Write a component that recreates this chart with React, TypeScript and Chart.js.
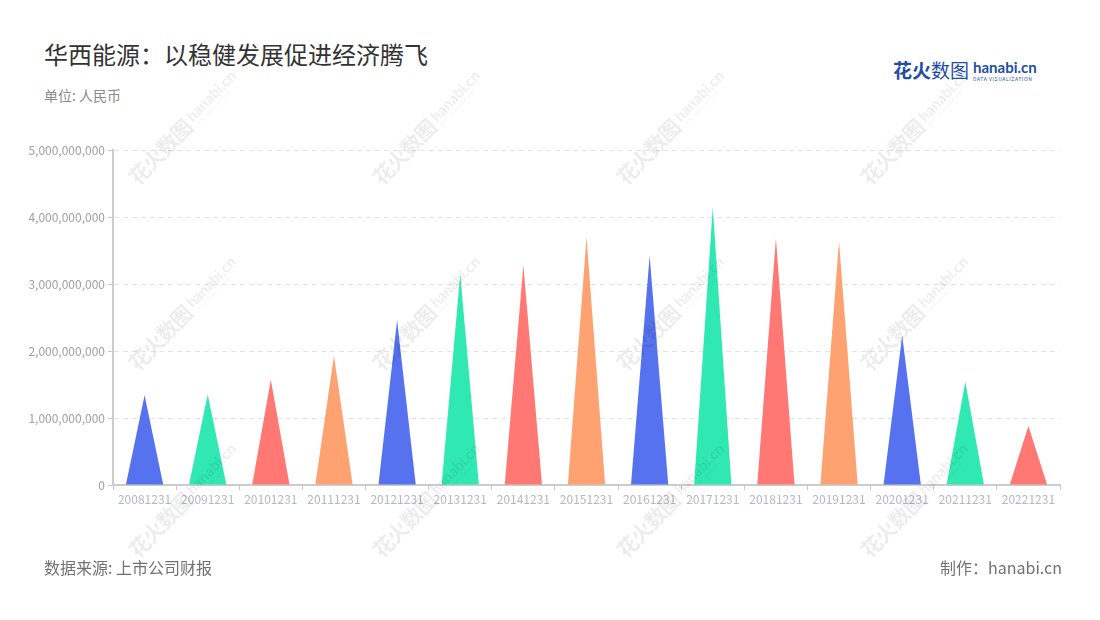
import React, { useEffect, useRef } from "react";
import { Chart, registerables } from "chart.js";

Chart.register(...registerables);

const categories = [
  "20081231", "20091231", "20101231", "20111231", "20121231",
  "20131231", "20141231", "20151231", "20161231", "20171231",
  "20181231", "20191231", "20201231", "20211231", "20221231",
];
const values = [
  1340000000, 1350000000, 1570000000, 1930000000, 2460000000,
  3150000000, 3280000000, 3700000000, 3420000000, 4150000000,
  3680000000, 3640000000, 2230000000, 1540000000, 880000000,
];
const palette = ["#5672EF", "#30E8B2", "#FF7874", "#FFA272"];
const yMax = 5000000000;
const yStep = 1000000000;

const FONT = '"Noto Sans CJK SC", "Noto Sans", sans-serif';

const trianglePlugin = {
  id: "triangles",
  afterDatasetsDraw(chart: any) {
    const ctx = chart.ctx;
    chart.data.datasets.forEach((ds: any, di: number) => {
      const meta = chart.getDatasetMeta(di);
      meta.data.forEach((el: any, i: number) => {
        const { x, y, base, width } = el.getProps(["x", "y", "base", "width"], true);
        ctx.save();
        ctx.beginPath();
        ctx.moveTo(x - width / 2, base);
        ctx.lineTo(x, y);
        ctx.lineTo(x + width / 2, base);
        ctx.closePath();
        ctx.fillStyle = palette[i % palette.length];
        ctx.fill();
        ctx.restore();
      });
    });
  },
};

const wmRows = [127, 313, 500];
const wmCols = [183, 427, 671, 915];

function Watermark({ cx, cy }: { cx: number; cy: number }) {
  return (
    <div
      style={{
        position: "absolute",
        left: cx - 90,
        top: cy - 20,
        width: 180,
        height: 40,
        transform: "rotate(-46deg)",
        display: "flex",
        alignItems: "center",
        justifyContent: "center",
        color: "rgba(0,0,0,0.075)",
        fontFamily: FONT,
        whiteSpace: "nowrap",
        pointerEvents: "none",
      }}
    >
      <span style={{ fontSize: 21, fontWeight: 700, letterSpacing: -1 }}>花火数图</span>
      <span style={{ display: "inline-flex", flexDirection: "column", marginLeft: 4, lineHeight: 1 }}>
        <span style={{ fontSize: 15, fontWeight: 700, fontFamily: "Lato, sans-serif" }}>hanabi.cn</span>
        <span style={{ fontSize: 4, letterSpacing: 0.5 }}>DATA VISUALIZATION</span>
      </span>
    </div>
  );
}

export default function App() {
  const canvasRef = useRef<HTMLCanvasElement | null>(null);

  useEffect(() => {
    if (!canvasRef.current) return;
    const chart = new Chart(canvasRef.current, {
      type: "bar",
      data: {
        labels: categories,
        datasets: [
          {
            data: values,
            backgroundColor: "rgba(0,0,0,0)",
            borderWidth: 0,
            categoryPercentage: 1,
            barPercentage: 0.59,
          },
        ],
      },
      options: {
        animation: false,
        responsive: false,
        maintainAspectRatio: false,
        layout: { padding: { top: 150, right: 40, left: 0, bottom: 0 } },
        plugins: {
          legend: { display: false },
          tooltip: { enabled: false },
          title: { display: false },
        },
        scales: {
          x: {
            afterFit: (s: any) => {
              s.height = 135;
            },
            grid: {
              drawOnChartArea: false,
              drawTicks: true,
              tickLength: 5,
              tickColor: "#c8c8c8",
              tickWidth: 1,
            },
            border: { color: "#cccccc", width: 2 },
            ticks: {
              color: "#b3b8c5",
              font: { family: FONT, size: 12 },
              padding: 2,
              maxRotation: 0,
              autoSkip: false,
            },
          },
          y: {
            min: 0,
            max: yMax,
            afterFit: (s: any) => {
              s.width = 113;
            },
            grid: {
              color: "#e4e4e4",
              lineWidth: 1,
              tickLength: 5,
              tickColor: "#c8c8c8",
              tickBorderDash: [],
              drawTicks: true,
            },
            border: { color: "#cccccc", width: 2, dash: [5, 4] },
            ticks: {
              stepSize: yStep,
              color: "#a0a0a0",
              font: { family: FONT, size: 12 },
              padding: 3,
              callback: (v: any) => Number(v).toLocaleString("en-US"),
            },
          },
        },
      } as any,
      plugins: [trianglePlugin],
    });
    return () => chart.destroy();
  }, []);

  return (
    <div
      style={{
        position: "absolute",
        left: 0,
        top: 0,
        width: 1100,
        height: 620,
        background: "#fff",
        overflow: "hidden",
        fontFamily: FONT,
      }}
    >
      <div
        style={{
          position: "absolute",
          left: 44,
          top: 42,
          fontSize: 24,
          lineHeight: "24px",
          color: "#333",
          whiteSpace: "nowrap",
        }}
      >
        华西能源：以稳健发展促进经济腾飞
      </div>
      <div
        style={{
          position: "absolute",
          left: 44,
          top: 88,
          fontSize: 14,
          lineHeight: "14px",
          color: "#8a8a8a",
          whiteSpace: "nowrap",
        }}
      >
        单位: 人民币
      </div>
      <div
        style={{
          position: "absolute",
          left: 893,
          top: 59,
          display: "flex",
          alignItems: "center",
          whiteSpace: "nowrap",
        }}
      >
        <span style={{ fontSize: 19, fontWeight: 700, color: "#1f4ea6", letterSpacing: 0, lineHeight: "22px" }}>
          花火<span style={{ fontWeight: 400 }}>数图</span>
        </span>
        <span style={{ display: "inline-flex", flexDirection: "column", marginLeft: 4, lineHeight: 1 }}>
          <span style={{ fontSize: 15, fontWeight: 700, color: "#1f4ea6", fontFamily: "Lato, sans-serif" }}>hanabi.cn</span>
          <span style={{ fontSize: 5, color: "#1f4ea6", letterSpacing: 0.6, marginTop: 1 }}>DATA VISUALIZATION</span>
        </span>
      </div>
      <canvas
        ref={canvasRef}
        width={1100}
        height={620}
        style={{ position: "absolute", left: 0, top: 0, width: 1100, height: 620 }}
      />
      <div
        style={{
          position: "absolute",
          left: 44,
          top: 557,
          fontSize: 16,
          lineHeight: "20px",
          color: "#717171",
          whiteSpace: "nowrap",
        }}
      >
        数据来源: 上市公司财报
      </div>
      <div
        style={{
          position: "absolute",
          right: 38,
          top: 557,
          fontSize: 16,
          lineHeight: "20px",
          color: "#717171",
          whiteSpace: "nowrap",
        }}
      >
        制作：hanabi.cn
      </div>
      {wmRows.map((cy) =>
        wmCols.map((cx) => <Watermark key={`${cx}-${cy}`} cx={cx} cy={cy} />)
      )}
    </div>
  );
}
